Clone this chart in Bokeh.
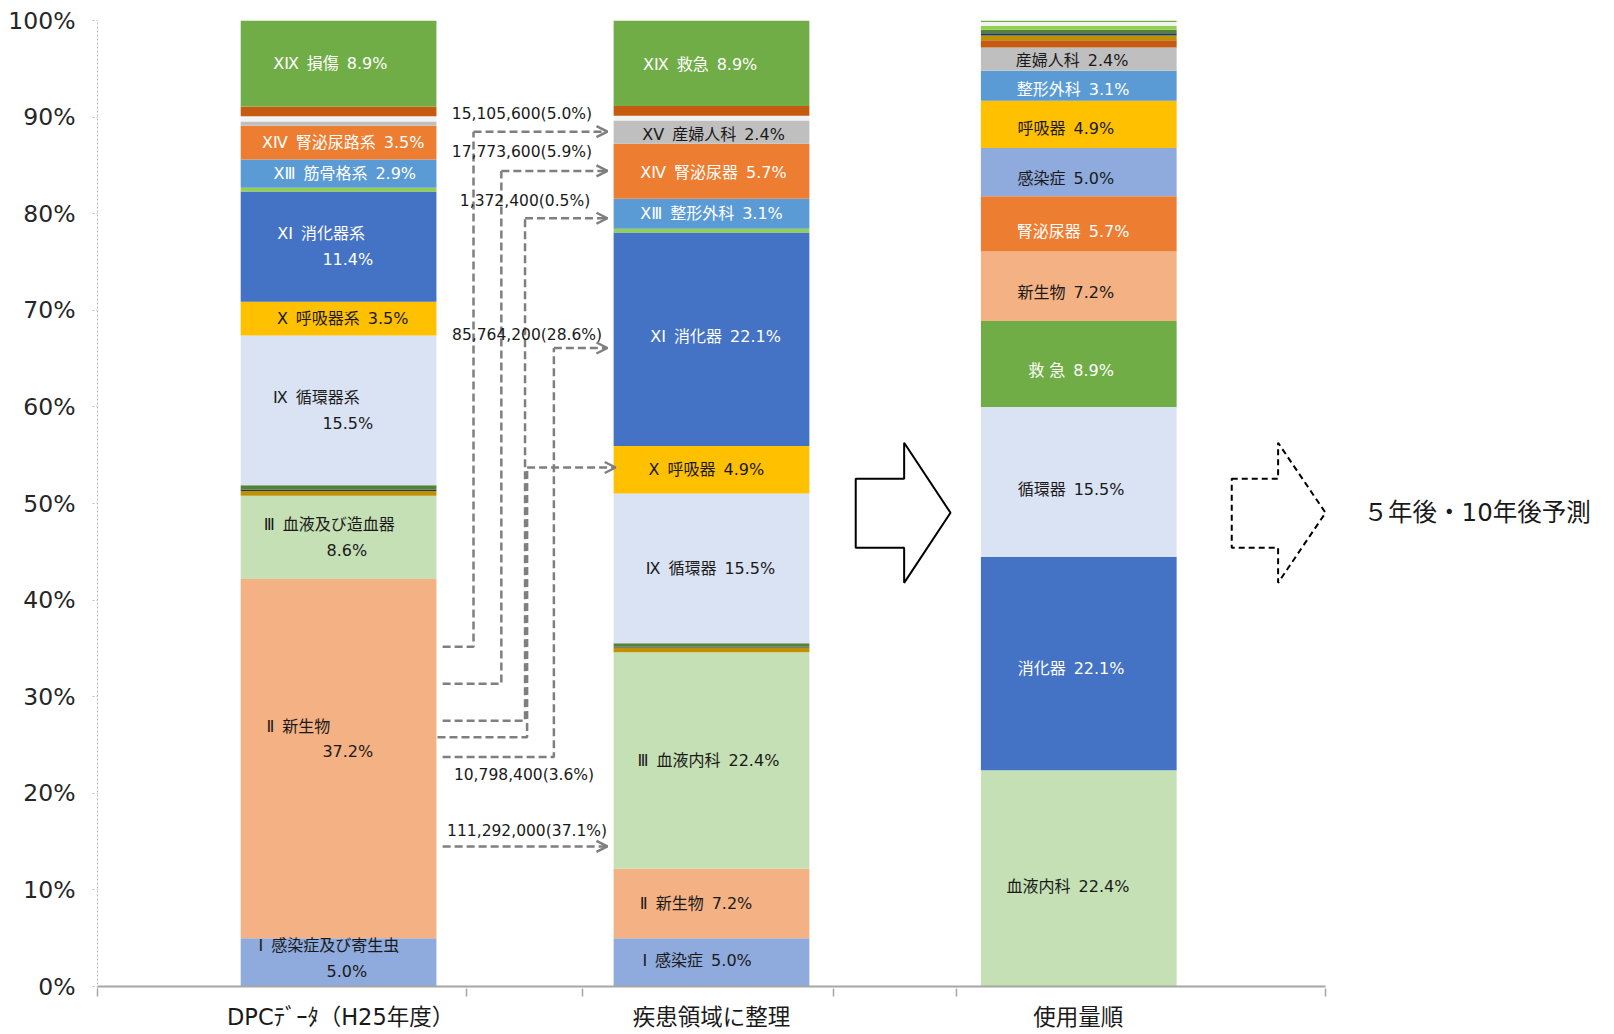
import numpy as np
from bokeh.plotting import figure
from bokeh.models import Range1d, FixedTicker, ColumnDataSource, Arrow, OpenHead
from bokeh.core.properties import value
from bokeh.embed import file_html
from bokeh.resources import INLINE

# ---------------- data ----------------
categories = ["DPCﾃﾞｰﾀ（H25年度）", "疾患領域に整理", "使用量順"]

bar1_keys = ["I", "II", "III", "IV", "V", "VI", "IX", "X", "XI", "XII", "XIII", "XIV", "XV", "XVI", "XVIII", "XIX"]
bar1_values = [5.0, 37.2, 8.6, 0.5, 0.15, 0.45, 15.5, 3.5, 11.4, 0.4, 2.9, 3.5, 0.45, 0.55, 1.0, 8.9]

bar2_keys = ["I", "II", "III", "IV", "V", "VI", "IX", "X", "XI", "XII", "XIII", "XIV", "XV", "XVI", "XVIII", "XIX"]
bar2_values = [5.0, 7.2, 22.4, 0.5, 0.1, 0.35, 15.5, 4.9, 22.1, 0.4, 3.1, 5.7, 2.4, 0.5, 1.0, 8.9]

bar3_keys = ["III", "XI", "IX", "XIX", "II", "XIV", "I", "X", "XIII", "XV", "XVIII", "IV", "V", "VI", "XII", "XVI", "XXI"]
bar3_values = [22.4, 22.1, 15.5, 8.9, 7.2, 5.7, 5.0, 4.9, 3.1, 2.4, 0.76, 0.49, 0.23, 0.36, 0.4, 0.4, 0.16]

S = "\u2002"
bar1_label_keys = ["I", "II", "III", "IX", "X", "XI", "XIII", "XIV", "XIX"]
bar1_label_line1 = ["Ⅰ" + S + "感染症及び寄生虫", "Ⅱ" + S + "新生物", "Ⅲ" + S + "血液及び造血器",
                    "Ⅸ" + S + "循環器系", "Ⅹ" + S + "呼吸器系" + S + "3.5%", "ⅩⅠ" + S + "消化器系",
                    "ⅩⅢ" + S + "筋骨格系" + S + "2.9%", "ⅩⅣ" + S + "腎泌尿路系" + S + "3.5%",
                    "ⅩⅨ" + S + "損傷" + S + "8.9%"]
bar1_label_line2 = ["5.0%", "37.2%", "8.6%", "15.5%", "", "11.4%", "", "", ""]

bar2_label_keys = ["I", "II", "III", "IX", "X", "XI", "XIII", "XIV", "XV", "XIX"]
bar2_label_line1 = ["Ⅰ" + S + "感染症" + S + "5.0%", "Ⅱ" + S + "新生物" + S + "7.2%",
                    "Ⅲ" + S + "血液内科" + S + "22.4%", "Ⅸ" + S + "循環器" + S + "15.5%",
                    "Ⅹ" + S + "呼吸器" + S + "4.9%", "ⅩⅠ" + S + "消化器" + S + "22.1%",
                    "ⅩⅢ" + S + "整形外科" + S + "3.1%", "ⅩⅣ" + S + "腎泌尿器" + S + "5.7%",
                    "ⅩⅤ" + S + "産婦人科" + S + "2.4%", "ⅩⅨ" + S + "救急" + S + "8.9%"]

bar3_label_keys = ["III", "XI", "IX", "XIX", "II", "XIV", "I", "X", "XIII", "XV"]
bar3_label_line1 = ["血液内科" + S + "22.4%", "消化器" + S + "22.1%", "循環器" + S + "15.5%",
                    "救 急" + S + "8.9%", "新生物" + S + "7.2%", "腎泌尿器" + S + "5.7%",
                    "感染症" + S + "5.0%", "呼吸器" + S + "4.9%", "整形外科" + S + "3.1%",
                    "産婦人科" + S + "2.4%"]

flow_labels = ["15,105,600(5.0%)", "17,773,600(5.9%)", "1,372,400(0.5%)",
               "10,798,400(3.6%)", "85,764,200(28.6%)", "111,292,000(37.1%)"]
forecast_text = "５年後・10年後予測"

# ---------------- styles / layout ----------------
seg_colors = {
    "I": "#8faadc", "II": "#f4b183", "III": "#c5e0b4", "IV": "#bf9000", "V": "#203864",
    "VI": "#548235", "IX": "#dae3f3", "X": "#ffc000", "XI": "#4472c4", "XII": "#92d050",
    "XIII": "#5b9bd5", "XIV": "#ed7d31", "XV": "#bfbfbf", "XVI": "#f2f2f2", "XVIII": "#c55a11",
    "XIX": "#70ad47", "XXI": "#70ad47",
}
white_text_keys = {"XI", "XIII", "XIV", "XIX"}
FONT_NAME = "DejaVu Sans, Noto Sans CJK JP"
FONT = value(FONT_NAME)

bar_centers = [234, 596, 952.5]
bar_width = 190
cat_label_x = [236, 596, 952]
boundary_ticks = [0, 358, 471, 714, 834, 1192]

K = 1.03
bar1_dx = [(-9.5, 8), (-39, 9), (-9, 8), (-21.5, 9), (4, 0), (-17, 9), (6, 0), (4.5, 0), (-8, 0)]
bar1_dy = [-4, -19, 0, 0, 0, 0, 0, 0, 0, 1]
bar2_dx = [-14, -15, -3, -1, -5, 4, 0, 2, 2, -11]
bar2_dy = [-2, 0, 0, 0, 0, -3, 0, 1, 2, 1]
bar3_dx = [-10.5, -7.5, -7.5, -7.5, -12.5, -5.5, -12.5, -12.5, -5.5, -6.5]
bar3_dy = [8, 5, 7, 6, 6, 7, 6, 4, 4, 1]

p = figure(frame_width=1501, frame_height=968,
           x_range=Range1d(0, 1457), y_range=Range1d(-0.2, 100),
           output_backend="svg", toolbar_location=None,
           min_border_left=97, min_border_right=0, min_border_top=20, min_border_bottom=30)
p.xgrid.visible = False
p.ygrid.visible = False
p.outline_line_color = None

# ---------------- bars ----------------
centers = []
for xc, keys, vals in zip(bar_centers, [bar1_keys, bar2_keys, bar3_keys],
                          [bar1_values, bar2_values, bar3_values]):
    v = np.array(vals, dtype=float)
    tops = np.cumsum(v)
    bottoms = tops - v
    src = ColumnDataSource(dict(x=[xc] * len(keys), bottom=bottoms, top=tops,
                                color=[seg_colors[k] for k in keys]))
    p.vbar(x="x", width=bar_width, bottom="bottom", top="top", fill_color="color",
           line_color=None, source=src)
    centers.append({k: (b + t) / 2 for k, b, t in zip(keys, bottoms, tops)})

# baseline
p.segment(x0=[boundary_ticks[0]], y0=[0], x1=[boundary_ticks[-1]], y1=[0],
          line_color="#a6a6a6", line_width=2)

# ---------------- bar labels ----------------
tx, ty, tt, tc, txo, tyo = [], [], [], [], [], []
def add(x, y, t, k, xo, yo):
    tx.append(x); ty.append(y); tt.append(t)
    tc.append("white" if k in white_text_keys else "#1a1a1a")
    txo.append(xo * K); tyo.append(yo * K)

for i, k in enumerate(bar1_label_keys):
    y = centers[0][k]
    dx1, dx2 = bar1_dx[i]
    if bar1_label_line2[i]:
        add(bar_centers[0], y, bar1_label_line1[i], k, dx1, bar1_dy[i] - 12.5)
        add(bar_centers[0], y, bar1_label_line2[i], k, dx2, bar1_dy[i] + 12.5)
    else:
        add(bar_centers[0], y, bar1_label_line1[i], k, dx1, bar1_dy[i])
for i, k in enumerate(bar2_label_keys):
    add(bar_centers[1], centers[1][k], bar2_label_line1[i], k, bar2_dx[i], bar2_dy[i])
for i, k in enumerate(bar3_label_keys):
    add(bar_centers[2], centers[2][k], bar3_label_line1[i], k, bar3_dx[i], bar3_dy[i])

lsrc = ColumnDataSource(dict(x=tx, y=ty, text=tt, color=tc, xo=txo, yo=tyo))
p.text(x="x", y="y", text="text", text_color="color", x_offset="xo", y_offset="yo",
       text_align="center", text_baseline="middle", text_font=FONT,
       text_font_size="16px", source=lsrc)

# ---------------- flow arrows ----------------
ARROW_C = "#7f7f7f"
flow_paths = [
    ([335, 365, 365], [35.18, 35.18, 88.49], 495),
    ([335, 392, 392], [31.34, 31.34, 84.43], 495),
    ([335, 415, 415], [27.51, 27.51, 79.53], 495),
    ([330, 417, 417], [25.80, 25.80, 53.73], 503),
    ([335, 443, 443], [23.77, 23.77, 66.10], 495),
    ([335], [14.50], 495),
]
for xs, ys, xe in flow_paths:
    if len(xs) > 1:
        p.line(xs, ys, line_color=ARROW_C, line_width=2.5, line_dash="8 4")
    p.add_layout(Arrow(x_start=xs[-1], y_start=ys[-1], x_end=xe, y_end=ys[-1],
                       line_color=ARROW_C, line_width=2.5, line_dash="8 4",
                       end=OpenHead(size=11, line_color=ARROW_C, line_width=2.5)))

flow_label_x = [412, 412, 415, 414, 417, 417]
flow_label_y = [90.3, 86.35, 81.34, 21.86, 67.48, 16.1]
p.text(x=flow_label_x, y=flow_label_y, text=flow_labels, text_align="center",
       text_baseline="middle", text_font=FONT, text_font_size="15.5px", text_color="#1a1a1a")

# ---------------- big arrows ----------------
arrow_y = [52.56, 52.56, 56.29, 49.04, 41.79, 45.42, 45.42]
p.patch([736, 783, 783, 828, 783, 783, 736], arrow_y, fill_color="white",
        line_color="black", line_width=2)
p.patch([1101, 1146, 1146, 1192, 1146, 1146, 1101], arrow_y, fill_color="white",
        line_color="black", line_width=2, line_dash="6 4")
p.text(x=[1229], y=[49.04], text=[forecast_text], text_align="left", text_baseline="middle",
       text_font=FONT, text_font_size="24.5px", text_color="#1a1a1a")

# ---------------- axes ----------------
xa = p.xaxis[0]
xa.ticker = FixedTicker(ticks=cat_label_x, minor_ticks=boundary_ticks)
xa.major_label_overrides = {x: c for x, c in zip(cat_label_x, categories)}
xa.axis_line_color = None
xa.major_tick_line_color = None
xa.major_tick_out = 0
xa.major_tick_in = 0
xa.minor_tick_line_color = "#a6a6a6"
xa.minor_tick_line_width = 1.5
xa.minor_tick_out = 8
xa.minor_tick_in = 0
xa.major_label_standoff = 7
xa.major_label_text_font = FONT_NAME
xa.major_label_text_font_size = "22.5px"
xa.major_label_text_color = "#1a1a1a"

ya = p.yaxis[0]
yt = list(range(0, 101, 10))
ya.ticker = FixedTicker(ticks=yt, minor_ticks=[])
ya.major_label_overrides = {t: f"{t}%" for t in yt}
ya.axis_line_color = "#bfbfbf"
ya.axis_line_dash = "2 2"
ya.major_tick_line_color = "#bfbfbf"
ya.major_tick_line_dash = "2 2"
ya.major_tick_out = 5
ya.major_tick_in = 0
ya.minor_tick_line_color = None
ya.major_label_standoff = 17
ya.major_label_text_font = FONT_NAME
ya.major_label_text_font_size = "23.5px"
ya.major_label_text_color = "#262626"

with open("out.html", "w", encoding="utf-8") as f:
    f.write(file_html(p, INLINE, title="chart"))
